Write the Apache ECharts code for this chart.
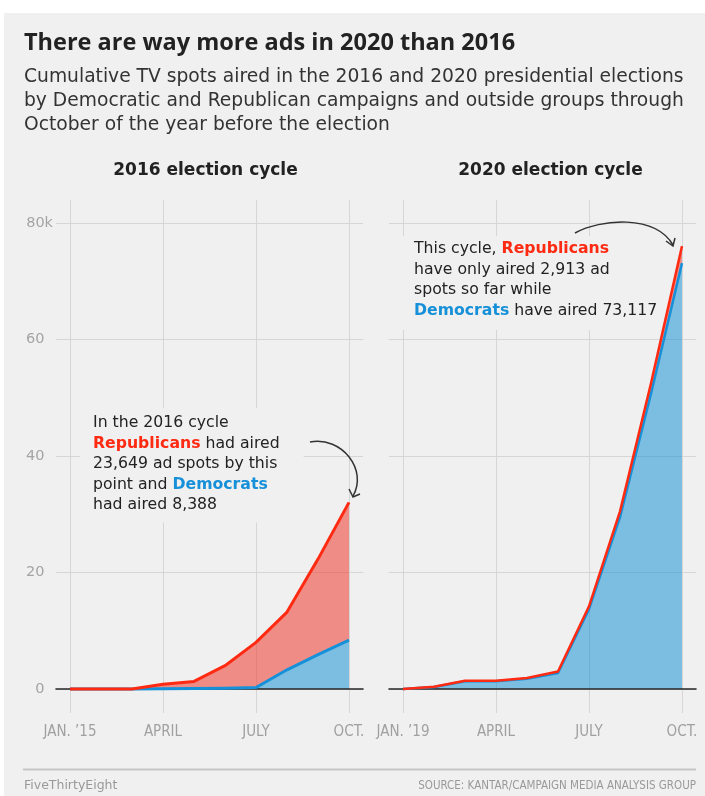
<!DOCTYPE html>
<html>
<head>
<meta charset="utf-8">
<script src="https://cdn.jsdelivr.net/npm/echarts@6/dist/echarts.min.js"></script>
<style>
html,body{margin:0;padding:0;background:#fff;width:705px;height:796px;overflow:hidden;}
#bg{position:absolute;left:4px;top:13px;right:0;bottom:0;background:#f0f0f0;}
#chart{position:absolute;left:0;top:0;width:705px;height:796px;}
</style>
</head>
<body>
<div id="bg"></div>
<div id="chart"></div>
<script>
// ---- data (ad spots, cumulative, Jan..Oct) ----
const months = ['Jan','Feb','Mar','Apr','May','Jun','Jul','Aug','Sep','Oct'];
const dem2016 = [0, 0, 0, 50, 100, 150, 250, 3300, 5900, 8388];
const rep2016 = [0, 0, 0, 750, 1200, 3850, 7750, 9900, 16400, 23649];
const dem2020 = [0, 350, 1330, 1330, 1750, 2750, 13700, 29500, 50700, 73117];
const rep2020 = [0, 50, 100, 100, 150, 250, 500, 1000, 1800, 2913];
const xTicks2016 = ['JAN. \u201915', 'APRIL', 'JULY', 'OCT.'];
const xTicks2020 = ['JAN. \u201919', 'APRIL', 'JULY', 'OCT.'];

const RED = '#ff2a12', BLUE = '#1690d8';
const RED_FILL = 'rgba(240,62,52,0.56)', BLUE_FILL = 'rgba(8,140,212,0.5)';
const GRIDC = '#d6d6d6';
const NARROW = "'Liberation Sans Narrow','DejaVu Sans Condensed','Roboto Condensed',sans-serif";
const BODY = "'DejaVu Sans',sans-serif";

// layout: data plot (0..80k) spans y 223..689; vertical grid lines span 200..713
const PLOT_TOP = 223, PLOT_H = 466, VG_TOP = 200, VG_H = 513, YMAX = 80000;
const unitPerPx = YMAX / PLOT_H;
const vgMin = -(VG_TOP + VG_H - (PLOT_TOP + PLOT_H)) * unitPerPx;
const vgMax = YMAX + (PLOT_TOP - VG_TOP) * unitPerPx;

function hGridAxes(gi, showY) {
  return {
    x: {
      gridIndex: gi, type: 'value', min: 0, max: 1, z: 3,
      axisLine: { show: true, onZero: true, lineStyle: { color: '#262626', width: 1.6 } },
      axisTick: { show: false }, axisLabel: { show: false }, splitLine: { show: false }
    },
    y: {
      gridIndex: gi, type: 'value', min: 0, max: YMAX, interval: 20000,
      axisLine: { show: false }, axisTick: { show: false },
      splitLine: { show: true, lineStyle: { color: GRIDC, width: 1 } },
      axisLabel: {
        show: showY, margin: 3, align: 'right',
        color: '#a4a4a4', fontFamily: BODY, fontSize: 14.5,
        formatter: v => v === YMAX ? (v / 1000) + 'k' : (v / 1000) + '{s| }',
        rich: { s: { width: 8.5 } }
      }
    }
  };
}
function dataAxes(gi, labels) {
  return {
    x: {
      gridIndex: gi, type: 'category', data: months, boundaryGap: false,
      axisLine: { show: false }, axisTick: { show: false },
      splitLine: { show: true, interval: i => i % 3 === 0, lineStyle: { color: GRIDC, width: 1 } },
      axisLabel: {
        interval: i => i % 3 === 0,
        margin: 12, color: '#a0a0a0', fontFamily: NARROW, fontSize: 15,
        formatter: (v, i) => labels[Math.round(i / 3)]
      }
    },
    y: { gridIndex: gi, type: 'value', min: vgMin, max: vgMax, show: false, splitLine: { show: false } }
  };
}
const a0 = hGridAxes(0, true), a1 = dataAxes(1, xTicks2016);
const a2 = hGridAxes(2, false), a3 = dataAxes(3, xTicks2020);

function areaSeries(ai, stack, data, fill) {
  return { type: 'line', xAxisIndex: ai, yAxisIndex: ai, stack: stack, data: data,
    showSymbol: false, symbol: 'none', lineStyle: { width: 0 }, areaStyle: { color: fill, opacity: 1 }, z: 2, silent: true };
}
function lineSeries(ai, stack, data, color, w) {
  return { type: 'line', xAxisIndex: ai, yAxisIndex: ai, stack: stack, data: data,
    showSymbol: false, symbol: 'none', lineStyle: { width: w, color: color, join: 'round' }, z: 3, silent: true };
}

const richParty = (c) => ({ fill: c, fontWeight: 'bold', fontFamily: BODY, fontSize: 15.7, lineHeight: 20.5 });
const option = {
  backgroundColor: 'transparent',
  animation: false,
  grid: [
    { left: 56, top: PLOT_TOP, width: 307, height: PLOT_H },
    { left: 70, top: VG_TOP, width: 279, height: VG_H },
    { left: 389, top: PLOT_TOP, width: 307, height: PLOT_H },
    { left: 403, top: VG_TOP, width: 279, height: VG_H }
  ],
  xAxis: [a0.x, a1.x, a2.x, a3.x],
  yAxis: [a0.y, a1.y, a2.y, a3.y],
  series: [
    areaSeries(1, 'area16', dem2016, BLUE_FILL),
    areaSeries(1, 'area16', rep2016, RED_FILL),
    lineSeries(1, 'line16', dem2016, BLUE, 3),
    lineSeries(1, 'line16', rep2016, RED, 3),
    areaSeries(3, 'area20', dem2020, BLUE_FILL),
    areaSeries(3, 'area20', rep2020, RED_FILL),
    lineSeries(3, 'line20', dem2020, BLUE, 2.5),
    lineSeries(3, 'line20', rep2020, RED, 2.5)
  ],
  graphic: [
    { type: 'text', z: 100, x: 24, y: 43.5, style: { text: 'There are way more ads in 2020 than 2016',
      fontFamily: 'Open Sans', fontWeight: 'bold', fontSize: 23.5, fill: '#222', align: 'left', verticalAlign: 'middle' } },
    { type: 'text', z: 100, x: 24, y: 100.7, style: { text: 'Cumulative TV spots aired in the 2016 and 2020 presidential elections\nby Democratic and Republican campaigns and outside groups through\nOctober of the year before the election',
      fontFamily: BODY, fontSize: 18.7, lineHeight: 24, fill: '#333', align: 'left', verticalAlign: 'middle' } },
    { type: 'text', z: 100, x: 205.5, y: 171, style: { text: '2016 election cycle',
      fontFamily: BODY, fontWeight: 'bold', fontSize: 17, fill: '#222', align: 'center', verticalAlign: 'middle' } },
    { type: 'text', z: 100, x: 550.5, y: 171, style: { text: '2020 election cycle',
      fontFamily: BODY, fontWeight: 'bold', fontSize: 17, fill: '#222', align: 'center', verticalAlign: 'middle' } },
    { type: 'text', z: 1, x: 80, y: 408, style: {
      text: 'In the 2016 cycle\n{r|Republicans} had aired\n23,649 ad spots by this\npoint and {b|Democrats}\nhad aired 8,388',
      fontFamily: BODY, fontSize: 15.7, lineHeight: 20.5, fill: '#222',
      align: 'left', verticalAlign: 'top', backgroundColor: '#f0f0f0', padding: [5, 24, 7, 13],
      rich: { r: richParty(RED), b: richParty(BLUE) } } },
    { type: 'text', z: 1, x: 398, y: 236, style: {
      text: 'This cycle, {r|Republicans}\nhave only aired 2,913 ad\nspots so far while\n{b|Democrats} have aired 73,117',
      fontFamily: BODY, fontSize: 15.7, lineHeight: 20.5, fill: '#222',
      align: 'left', verticalAlign: 'top', backgroundColor: '#f0f0f0', padding: [3, 2, 9, 16],
      rich: { r: richParty(RED), b: richParty(BLUE) } } },
    { type: 'bezierCurve', z: 101, shape: { x1: 310, y1: 442, cpx1: 342, cpy1: 436, cpx2: 368, cpy2: 470, x2: 353, y2: 496 },
      style: { stroke: '#333', lineWidth: 1.5, fill: null } },
    { type: 'polyline', z: 101, shape: { points: [[349, 489], [353, 497], [360, 494]] },
      style: { stroke: '#333', lineWidth: 1.5, fill: null } },
    { type: 'bezierCurve', z: 101, shape: { x1: 575, y1: 233, cpx1: 600, cpy1: 219, cpx2: 655, cpy2: 214, x2: 673, y2: 245 },
      style: { stroke: '#333', lineWidth: 1.5, fill: null } },
    { type: 'polyline', z: 101, shape: { points: [[666, 241], [673, 246], [675, 238]] },
      style: { stroke: '#333', lineWidth: 1.5, fill: null } },
    { type: 'line', z: 100, shape: { x1: 23, y1: 769.5, x2: 696, y2: 769.5 }, style: { stroke: '#c6c6c6', lineWidth: 2 } },
    { type: 'text', z: 100, x: 24, y: 786, style: { text: 'FiveThirtyEight',
      fontFamily: BODY, fontSize: 12.5, fill: '#999', align: 'left', verticalAlign: 'middle' } },
    { type: 'text', z: 100, x: 696, y: 786, style: { text: 'SOURCE: KANTAR/CAMPAIGN MEDIA ANALYSIS GROUP',
      fontFamily: NARROW, fontSize: 11.5, fill: '#999', align: 'right', verticalAlign: 'middle' } }
  ]
};
const chart = echarts.init(document.getElementById('chart'), null, { renderer: 'canvas' });
chart.setOption(option);
</script>
</body>
</html>
